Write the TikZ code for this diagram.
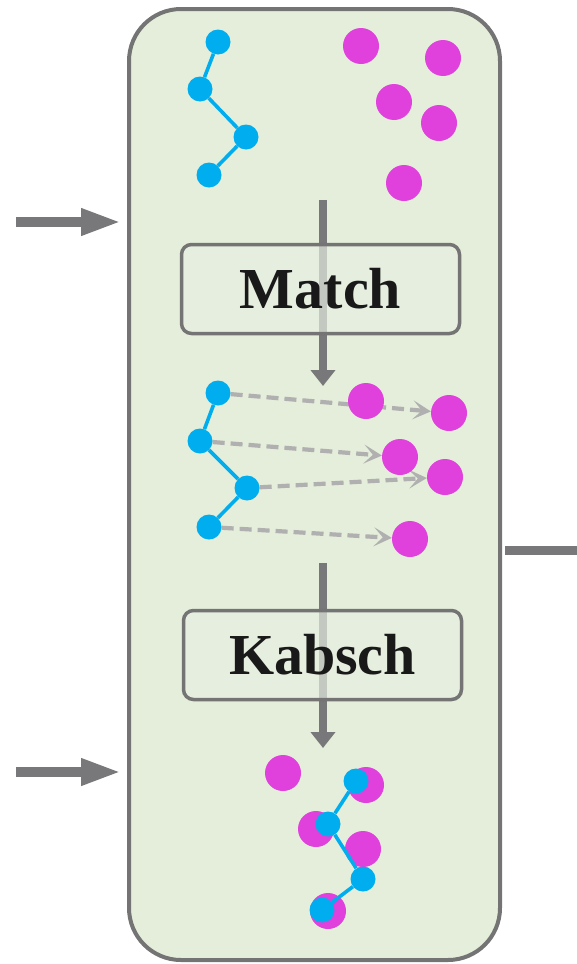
\documentclass[tikz,border=0pt]{standalone}
\usepackage{fontspec}
\setmainfont{Liberation Serif}
\usetikzlibrary{arrows.meta}
\pgfdeclarelayer{panellayer}
\pgfdeclarelayer{linklayer}
\pgfsetlayers{panellayer,linklayer,main}
\definecolor{panelfill}{RGB}{228,238,218}
\definecolor{edgegray}{RGB}{116,116,116}
\definecolor{flowgray}{RGB}{120,120,122}
\definecolor{dashgray}{RGB}{176,176,176}
\definecolor{atomblue}{RGB}{0,174,239}
\definecolor{atommag}{RGB}{224,64,220}
\definecolor{boxfill}{RGB}{232,238,226}
\tikzset{
  panel/.style={draw=edgegray, line width=4pt, fill=panelfill, rounded corners=52pt,
    minimum width=371pt, minimum height=951pt, inner sep=0pt},
  stepbox/.style={draw=edgegray, line width=3.5pt, fill=boxfill, fill opacity=0.68,
    text opacity=1, rounded corners=10pt, minimum width=278pt, minimum height=89pt,
    inner sep=0pt, text=black!90, font=\fontsize{58}{60}\selectfont\bfseries},
  bdot/.style={circle, fill=atomblue, minimum size=25pt, inner sep=0pt},
  mdot/.style={circle, fill=atommag, minimum size=36pt, inner sep=0pt},
  bond/.style={draw=atomblue, line width=3.6pt},
  flow/.style={draw=flowgray, line width=8pt, -{Triangle[length=16pt,width=24pt]}},
  inarrow/.style={draw=flowgray, line width=9.5pt, -{Triangle[length=40pt,width=25pt]}},
  pairing/.style={draw=dashgray, line width=4.2pt, dash pattern=on 12pt off 6pt,
    -{Stealth[length=18pt,width=19pt,inset=9pt]}},
}
\begin{document}
\begin{tikzpicture}[x=1pt, y=-1pt]
\useasboundingbox (0,0) rectangle (577,964);

% outer container
\begin{pgfonlayer}{panellayer}
  \node[panel] (panel) at (314.5,484.5) {};
\end{pgfonlayer}

% incoming and outgoing arrows
\coordinate (inAs) at (16,222);
\coordinate (inAe) at (121,222);
\coordinate (inBs) at (16,772);
\coordinate (inBe) at (121,772);
\coordinate (outs) at (505,550);
\coordinate (oute) at (577,550);
\draw[inarrow] (inAs) -- (inAe);
\draw[inarrow] (inBs) -- (inBe);
\draw[draw=flowgray, line width=9pt] (outs) -- (oute);

% initial point sets
\node[bdot] (a1) at (218,42) {};
\node[bdot] (a2) at (200,89) {};
\node[bdot] (a3) at (246,137) {};
\node[bdot] (a4) at (209,175) {};
\draw[bond] (a1) -- (a2) -- (a3) -- (a4);
\node[mdot] (p1) at (361,46) {};
\node[mdot] (p2) at (443,58) {};
\node[mdot] (p3) at (394,102) {};
\node[mdot] (p4) at (439,123) {};
\node[mdot] (p5) at (404,183) {};

% matching step
\coordinate (f1s) at (323,200);
\coordinate (f1e) at (323,386);
\begin{pgfonlayer}{linklayer}
  \draw[flow] (f1s) -- (f1e);
\end{pgfonlayer}
\node[stepbox] (match) at (320.5,289) {Match};

% correspondences
\node[bdot] (b1) at (218,393) {};
\node[bdot] (b2) at (200,441) {};
\node[bdot] (b3) at (247,488) {};
\node[bdot] (b4) at (209,527) {};
\draw[bond] (b1) -- (b2) -- (b3) -- (b4);
\node[mdot] (q1) at (366,401) {};
\node[mdot] (q2) at (449,413) {};
\node[mdot] (q3) at (400,457) {};
\node[mdot] (q4) at (445,477) {};
\node[mdot] (q5) at (410,539) {};
\begin{pgfonlayer}{linklayer}
  \draw[pairing] (b1) -- (q2);
  \draw[pairing] (b2) -- (q3);
  \draw[pairing] (b3) -- (q4);
  \draw[pairing] (b4) -- (q5);
\end{pgfonlayer}

% alignment step
\coordinate (f2s) at (323,563);
\coordinate (f2e) at (323,748);
\begin{pgfonlayer}{linklayer}
  \draw[flow] (f2s) -- (f2e);
\end{pgfonlayer}
\node[stepbox] (kabsch) at (322.5,655) {Kabsch};

% aligned result
\node[mdot] (r1) at (283,773) {};
\node[mdot] (r2) at (366,785) {};
\node[mdot] (r3) at (316,829) {};
\node[mdot] (r4) at (363,849) {};
\node[mdot] (r5) at (328,911) {};
\node[bdot] (c1) at (356,781) {};
\node[bdot] (c2) at (328,824) {};
\node[bdot] (c3) at (363,879) {};
\node[bdot] (c4) at (322,910) {};
\draw[bond] (c1) -- (c2) -- (c3) -- (c4);
\end{tikzpicture}
\end{document}
